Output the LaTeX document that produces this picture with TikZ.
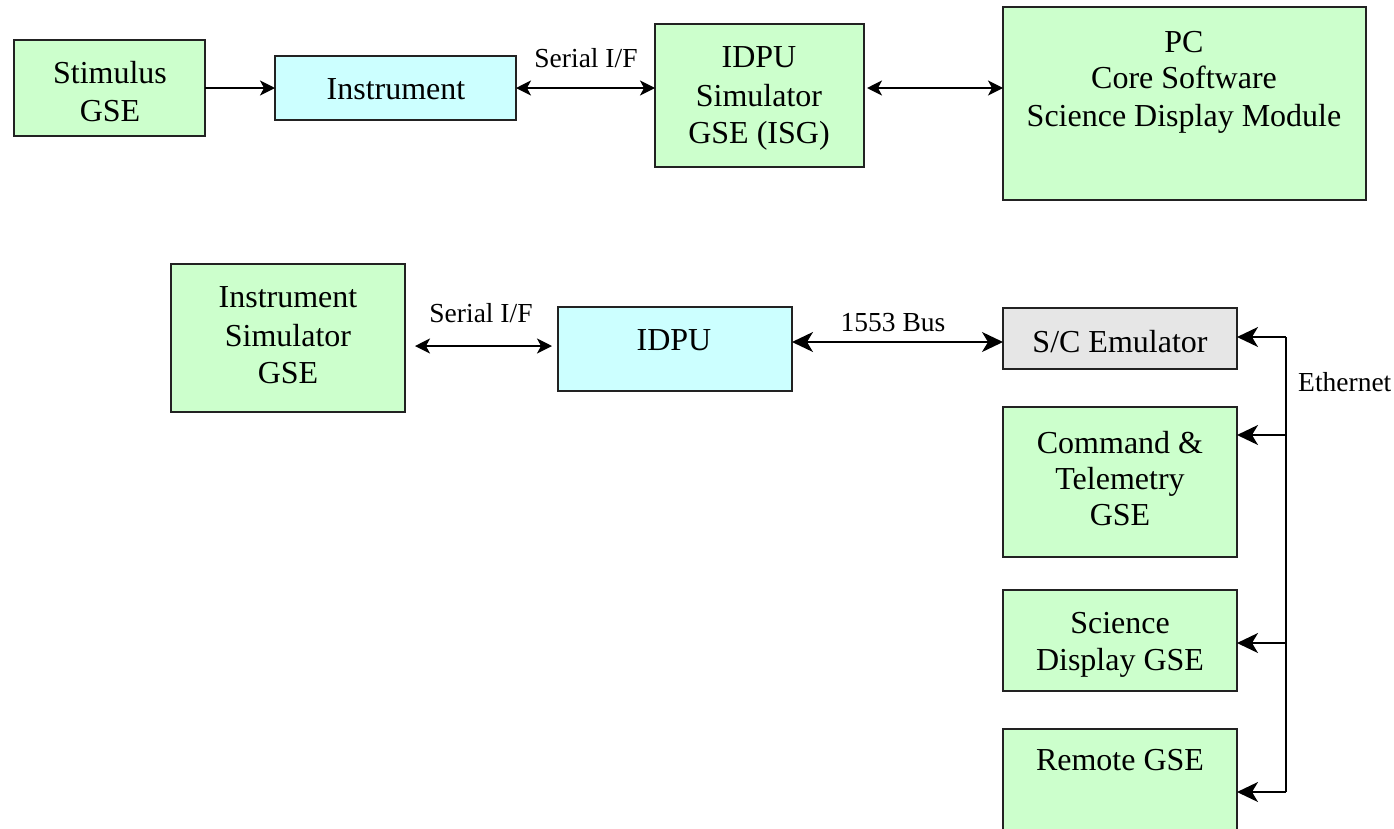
\documentclass[tikz,border=0pt]{standalone}
\usepackage{fontspec}
\setmainfont{Liberation Serif}
\usetikzlibrary{arrows.meta}

\definecolor{boxgreen}{HTML}{CCFFCC}
\definecolor{boxcyan}{HTML}{CCFFFF}
\definecolor{boxgray}{HTML}{E6E6E6}
\definecolor{edge}{HTML}{222222}

\tikzset{
  unit/.style={draw=edge, line width=1.6pt, inner sep=0pt, outer sep=0pt, anchor=north west},
  gse/.style={unit, fill=boxgreen},
  hw/.style={unit, fill=boxcyan},
  emu/.style={unit, fill=boxgray},
  big/.style={font=\fontsize{32}{37}\selectfont, anchor=base, inner sep=0pt},
  small/.style={font=\fontsize{27.5}{32}\selectfont, anchor=base, inner sep=0pt},
  link/.style={line width=1.5pt, draw=black},
  tipsm/.tip={Stealth[length=15pt, width=15pt, inset=4pt]},
  tipbg/.tip={Stealth[length=21pt, width=20pt, inset=6pt]},
  fwd/.style={link, -tipsm},
  both/.style={link, tipsm-tipsm},
  bothbig/.style={link, tipbg-tipbg},
  fwdbig/.style={link, -tipbg},
}

\begin{document}
\begin{tikzpicture}[x=1pt, y=-1pt]
\useasboundingbox (0,0) rectangle (1394,828);
\clip (0,0) rectangle (1394,828);

% ---- upper chain: stimulus, instrument, IDPU simulator, PC
\node[gse, minimum width=191pt, minimum height=96pt] (stim) at (14,40) {};
\node[hw,  minimum width=241pt, minimum height=64pt] (inst) at (275,56) {};
\node[gse, minimum width=209pt, minimum height=143pt] (isg) at (655,24) {};
\node[gse, minimum width=363pt, minimum height=193pt] (pc) at (1003,7) {};

\node[big] (tstim1) at (110,83) {Stimulus};
\node[big] (tstim2) at (110,121) {GSE};
\node[big] (tinst) at (396,99) {Instrument};
\node[big] (tisg1) at (759,67) {IDPU};
\node[big] (tisg2) at (759,106) {Simulator};
\node[big] (tisg3) at (759,143) {GSE (ISG)};
\node[big] (tpc1) at (1184,52) {PC};
\node[big] (tpc2) at (1184,88) {Core Software};
\node[big] (tpc3) at (1184,126) {Science Display Module};
\node[small] (tser1) at (586,67) {Serial I/F};

\draw[fwd] (stim) -- (inst);
\draw[both] (inst.east) -- (inst.east -| isg.west);
\draw[both, shorten <=3pt] (isg.east |- inst) -- (pc.west |- inst);

% ---- lower chain: instrument simulator, IDPU, spacecraft emulator and GSE
\node[gse, minimum width=234pt, minimum height=148pt] (isim) at (171,264) {};
\node[hw,  minimum width=234pt, minimum height=84pt] (idpu) at (558,307) {};
\node[emu, minimum width=234pt, minimum height=61pt] (sce) at (1003,308) {};
\node[gse, minimum width=234pt, minimum height=150pt] (cmd) at (1003,407) {};
\node[gse, minimum width=234pt, minimum height=101pt] (sci) at (1003,590) {};
\node[gse, minimum width=234pt, minimum height=130pt] (rem) at (1003,729) {};

\node[big] (tisim1) at (288,307) {Instrument};
\node[big] (tisim2) at (288,346) {Simulator};
\node[big] (tisim3) at (288,383) {GSE};
\node[big] (tidpu) at (674,350) {IDPU};
\node[big] (tsce) at (1120,352) {S/C Emulator};
\node[big] (tcmd1) at (1120,453) {Command \&};
\node[big] (tcmd2) at (1120,489) {Telemetry};
\node[big] (tcmd3) at (1120,525) {GSE};
\node[big] (tsci1) at (1120,633) {Science};
\node[big] (tsci2) at (1120,670) {Display GSE};
\node[big] (trem) at (1120,770) {Remote GSE};

\node[small] (tser2) at (481,322) {Serial I/F};
\node[small] (tbus) at (893,331) {1553 Bus};
\node[small, anchor=base west] (teth) at (1298,391) {Ethernet};

\coordinate (serial) at (0,346);
\coordinate (bus) at (0,342);
\draw[both, shorten <=10pt, shorten >=6pt] (isim.east |- serial) -- (idpu.west |- serial);
\draw[bothbig] (idpu.east |- bus) -- (sce.west |- bus);

% Ethernet backbone with its taps
\coordinate (e1) at (1286,337);
\coordinate (e2) at (1286,435);
\coordinate (e3) at (1286,643);
\coordinate (e4) at (1286,792);
\draw[link] (e1) -- (e4);
\draw[fwdbig] (e1) -- (sce.east |- e1);
\draw[fwdbig] (e2) -- (cmd.east |- e2);
\draw[fwdbig] (e3) -- (sci.east |- e3);
\draw[fwdbig] (e4) -- (rem.east |- e4);
\end{tikzpicture}
\end{document}
